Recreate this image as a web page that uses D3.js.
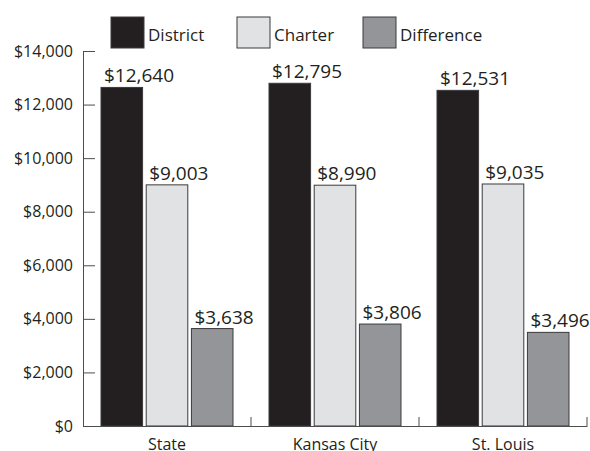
<!doctype html>
<html lang="en">
<head>
  <meta charset="utf-8">
  <title>District vs Charter</title>
  <script src="https://d3js.org/d3.v7.min.js"></script>
  <style>
  body { margin: 0; background: #fff; }
  text { font-family: "Open Sans", sans-serif; fill: #231f20; }
  </style>
</head>
<body>
<script>
  var categories = ["State", "Kansas City", "St. Louis"]
  var series = ["District", "Charter", "Difference"]
  var district = [12640, 12795, 12531]
  var charter = [9003, 8990, 9035]
  var difference = [3638, 3806, 3496]
  var yTicks = [0, 2000, 4000, 6000, 8000, 10000, 12000, 14000]
  var colors = ["#231f20", "#e1e2e4", "#939598"]

  var values = [district, charter, difference]

  var width = 590, height = 451
  var svg = d3.select("body").append("svg")
      .attr("width", width)
      .attr("height", height)

  // scales
  var x = d3.scaleBand().domain(categories).range([83, 587]).padding(0)
  var xs = d3.scaleBand().domain(series).range([18, 150]).paddingInner(0.08)
  var y = d3.scaleLinear().domain([0, 14000]).range([426, 51])

  // y axis, ticks pointing inward
  var yAxis = svg.append("g")
      .attr("transform", "translate(83,0)")
      .call(d3.axisLeft(y).tickValues(yTicks).tickSize(-12).tickSizeOuter(0)
        .tickPadding(10).tickFormat(d3.format("$,")))
  yAxis.select(".domain").attr("stroke", "#4d4d4f")
  yAxis.selectAll(".tick line").attr("stroke", "#4d4d4f")
  yAxis.selectAll("text").style("font-size", "16px").attr("fill", "#231f20")

  // bars
  var groups = svg.selectAll(".cat")
      .data(categories)
    .enter().append("g")
      .attr("class", "cat")
      .attr("transform", function(d) { return "translate(" + x(d) + ",0)" })

  groups.each(function(cat, ci) {
    var g = d3.select(this)
    series.forEach(function(s, si) {
      var v = values[si][ci]
      g.append("rect")
        .attr("x", xs(s))
        .attr("width", xs.bandwidth())
        .attr("y", y(v))
        .attr("height", y(0) - y(v))
        .attr("fill", colors[si])
        .attr("stroke", "#3a3a3c")
        .attr("stroke-width", 1)
      g.append("text")
        .attr("x", xs(s) + 3)
        .attr("y", y(v) - 5)
        .style("font-size", "19px")
        .text(d3.format("$,")(v))
    })
  })

  // x axis: baseline, ticks at band edges pointing up
  var xAxis = svg.append("g")
      .attr("transform", "translate(0," + y(0) + ")")
      .call(d3.axisBottom(x).tickSize(0).tickSizeOuter(0).tickPadding(13))
  xAxis.select(".domain").attr("stroke", "#4d4d4f")
  xAxis.selectAll("text").style("font-size", "16px").attr("fill", "#231f20")
  xAxis.selectAll(".edge")
      .data(categories)
    .enter().append("line")
      .attr("class", "edge")
      .attr("x1", function(d) { return x(d) + x.bandwidth() })
      .attr("x2", function(d) { return x(d) + x.bandwidth() })
      .attr("y1", 0)
      .attr("y2", -9)
      .attr("stroke", "#4d4d4f")

  // legend
  var legendX = [111, 237, 363]
  var legend = svg.selectAll(".leg")
      .data(series)
    .enter().append("g")
      .attr("class", "leg")
      .attr("transform", function(d, i) { return "translate(" + legendX[i] + ",17)" })
  legend.append("rect")
      .attr("width", 33)
      .attr("height", 31)
      .attr("fill", function(d, i) { return colors[i] })
      .attr("stroke", "#3a3a3c")
  legend.append("text")
      .attr("x", 37)
      .attr("y", 24)
      .style("font-size", "17px")
      .text(function(d) { return d })
</script>
</body>
</html>
